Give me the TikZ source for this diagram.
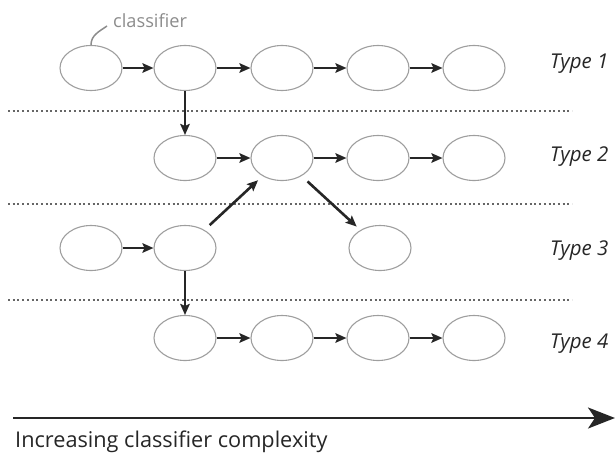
\documentclass[tikz,border=0pt]{standalone}
\usepackage{fontspec}
\setmainfont{Open Sans}
\usetikzlibrary{shapes.geometric,arrows.meta}

\begin{document}
\begin{tikzpicture}[x=1pt,y=-1pt,
  clf/.style={ellipse,draw=black!38,line width=1.1pt,minimum width=62pt,minimum height=45pt,inner sep=0pt},
  arr/.style={-{Stealth[length=11pt,width=9.5pt,inset=2pt]},line width=2.6pt,black!85},
  sep/.style={black!60,line width=2pt,dash pattern=on 2pt off 2.7pt},
  typ/.style={anchor=base west,inner sep=0pt,font=\fontsize{20.4}{24}\selectfont\itshape,black!85}]
\useasboundingbox (0,0) rectangle (615,453);

% classifiers, one row per type
\node[clf] (c11) at (91,68) {};
\node[clf] (c12) at (185,68) {};
\node[clf] (c13) at (282,68) {};
\node[clf] (c14) at (378,68) {};
\node[clf] (c15) at (474,68) {};

\node[clf] (c22) at (185,158) {};
\node[clf] (c23) at (282,158) {};
\node[clf] (c24) at (378,158) {};
\node[clf] (c25) at (474,158) {};

\node[clf] (c31) at (91,248) {};
\node[clf] (c32) at (185,248) {};
\node[clf] (c34) at (380,248) {};

\node[clf] (c42) at (185,338) {};
\node[clf] (c43) at (282,338) {};
\node[clf] (c44) at (378,338) {};
\node[clf] (c45) at (474,338) {};

% row separators
\draw[sep] (8,110.5) -- (572,110.5);
\draw[sep] (8,204) -- (572,204);
\draw[sep] (8,299.5) -- (572,299.5);

% links
\draw[arr] (c11) -- (c12);
\draw[arr] (c12) -- (c13);
\draw[arr] (c13) -- (c14);
\draw[arr] (c14) -- (c15);
\draw[arr] (c12) -- (c22);
\draw[arr] (c22) -- (c23);
\draw[arr] (c23) -- (c24);
\draw[arr] (c24) -- (c25);
\draw[arr] (c31) -- (c32);
\draw[arr,shorten <=7pt,shorten >=6pt] (c32) -- (c23);
\draw[arr,shorten <=8pt,shorten >=5pt] (c23) -- (c34);
\draw[arr] (c32) -- (c42);
\draw[arr] (c42) -- (c43);
\draw[arr] (c43) -- (c44);
\draw[arr] (c44) -- (c45);

% labels
\node[typ] (t1) at (550,68) {Type 1};
\node[typ] (t2) at (550,161) {Type 2};
\node[typ] (t3) at (550,255) {Type 3};
\node[typ] (t4) at (550,348) {Type 4};

\node[anchor=base west,inner sep=0pt,font=\fontsize{18.2}{21}\selectfont,black!45] (lbl) at (113,27) {classifier};
\draw[black!45,line width=1.5pt] ([xshift=-6pt,yshift=1pt]lbl.base west) to[out=215,in=90] (c11.north);

% complexity axis
\coordinate (ax0) at (13,418);
\coordinate (ax1) at (615,418);
\draw[-{Stealth[length=27pt,width=21pt,inset=7pt]},line width=2.6pt,black!85] (ax0) -- (ax1);
\node[anchor=base west,inner sep=0pt,font=\fontsize{21.7}{26}\selectfont,black!85] (axl) at (15,447) {Increasing classifier complexity};

\end{tikzpicture}
\end{document}
